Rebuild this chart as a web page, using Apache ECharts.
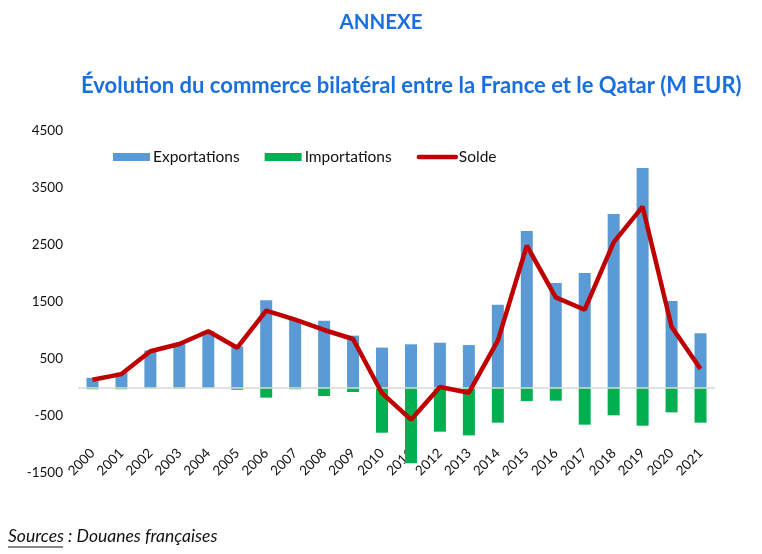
<!DOCTYPE html>
<html>
<head>
<meta charset="utf-8">
<script src="https://cdn.jsdelivr.net/npm/echarts@6/dist/echarts.min.js"></script>
<style>html,body{margin:0;padding:0;background:#fff}#c{width:762px;height:554px}</style>
</head>
<body>
<div id="c"></div>
<script>
const years = ['2000','2001','2002','2003','2004','2005','2006','2007','2008','2009','2010','2011','2012','2013','2014','2015','2016','2017','2018','2019','2020','2021'];
const exportations = [170, 260, 650, 760, 990, 720, 1530, 1200, 1170, 910, 700, 758, 786, 745, 1453, 2746, 1833, 2009, 3044, 3851, 1518, 951];
const importations = [-30, -30, -15, -20, -10, -40, -178, -30, -150, -80, -793, -1330, -775, -840, -617, -237, -231, -652, -488, -670, -436, -617];
const solde = [137, 235, 635, 763, 986, 698, 1347, 1190, 1009, 851, -100, -565, 9, -91, 821, 2488, 1582, 1365, 2547, 3172, 1067, 325];
const yTicks = [-1500, -500, 500, 1500, 2500, 3500, 4500];

const FONT = 'Lato, "Open Sans", sans-serif';
const chart = echarts.init(document.getElementById('c'), null, {renderer: 'canvas'});
chart.setOption({
  animation: false,
  backgroundColor: '#fff',
  title: [
    {text: 'ANNEXE', left: 'center', top: 7, textStyle: {fontFamily: FONT, fontWeight: 'bold', fontSize: 20.5, color: '#1a6fdf'}},
    {text: 'Évolution du commerce bilatéral entre la France et le Qatar (M EUR)', left: 76, top: 70, textStyle: {fontFamily: FONT, fontWeight: 'bold', fontSize: 22, color: '#1a6fdf'}}
  ],
  legend: {
    left: 108, top: 144, itemWidth: 37, itemHeight: 8, itemGap: 25,
    textStyle: {fontFamily: FONT, fontSize: 15.5, color: '#111', padding: [0, 0, 0, -2]},
    data: [
      {name: 'Exportations', icon: 'rect'},
      {name: 'Importations', icon: 'rect'},
      {name: 'Solde', itemStyle: {color: 'rgba(0,0,0,0)', borderWidth: 0}, lineStyle: {color: '#c00000', width: 4.5, cap: 'round'}}
    ]
  },
  grid: {left: 78, right: 47, top: 131, bottom: 81, containLabel: false},
  xAxis: {
    type: 'category', data: years,
    axisLine: {show: false, onZero: false},
    axisTick: {show: false},
    axisLabel: {rotate: 45, margin: -22, interval: 0, fontFamily: FONT, fontSize: 13.5, color: '#111'}
  },
  yAxis: {
    type: 'value', min: yTicks[0], max: yTicks[yTicks.length - 1], interval: 1000,
    axisLine: {show: false}, axisTick: {show: false}, splitLine: {show: false},
    axisLabel: {fontFamily: FONT, fontSize: 13.5, color: '#111', margin: 15, formatter: v => String(v)}
  },
  series: [
    {name: 'Exportations', type: 'bar', stack: 't', data: exportations, barWidth: 12, itemStyle: {color: '#5b9bd5'},
     markLine: {silent: true, symbol: 'none', label: {show: false}, lineStyle: {color: '#d9d9d9', width: 1.5, type: 'solid'}, data: [{yAxis: 0}]}},
    {name: 'Importations', type: 'bar', stack: 't', data: importations, barWidth: 12, itemStyle: {color: '#00b050'}},
    {name: 'Solde', type: 'line', data: solde, symbol: 'none', lineStyle: {color: '#c00000', width: 4.5}, itemStyle: {color: '#c00000'}, z: 5}
  ],
  graphic: [
    {type: 'text', left: 8, top: 527, style: {text: 'Sources : Douanes françaises', fontFamily: FONT, fontStyle: 'italic', fontSize: 17.5, fill: '#111'}},
    {type: 'line', shape: {x1: 8, y1: 547, x2: 63, y2: 547}, style: {stroke: '#111', lineWidth: 1}}
  ]
});
</script>
</body>
</html>
